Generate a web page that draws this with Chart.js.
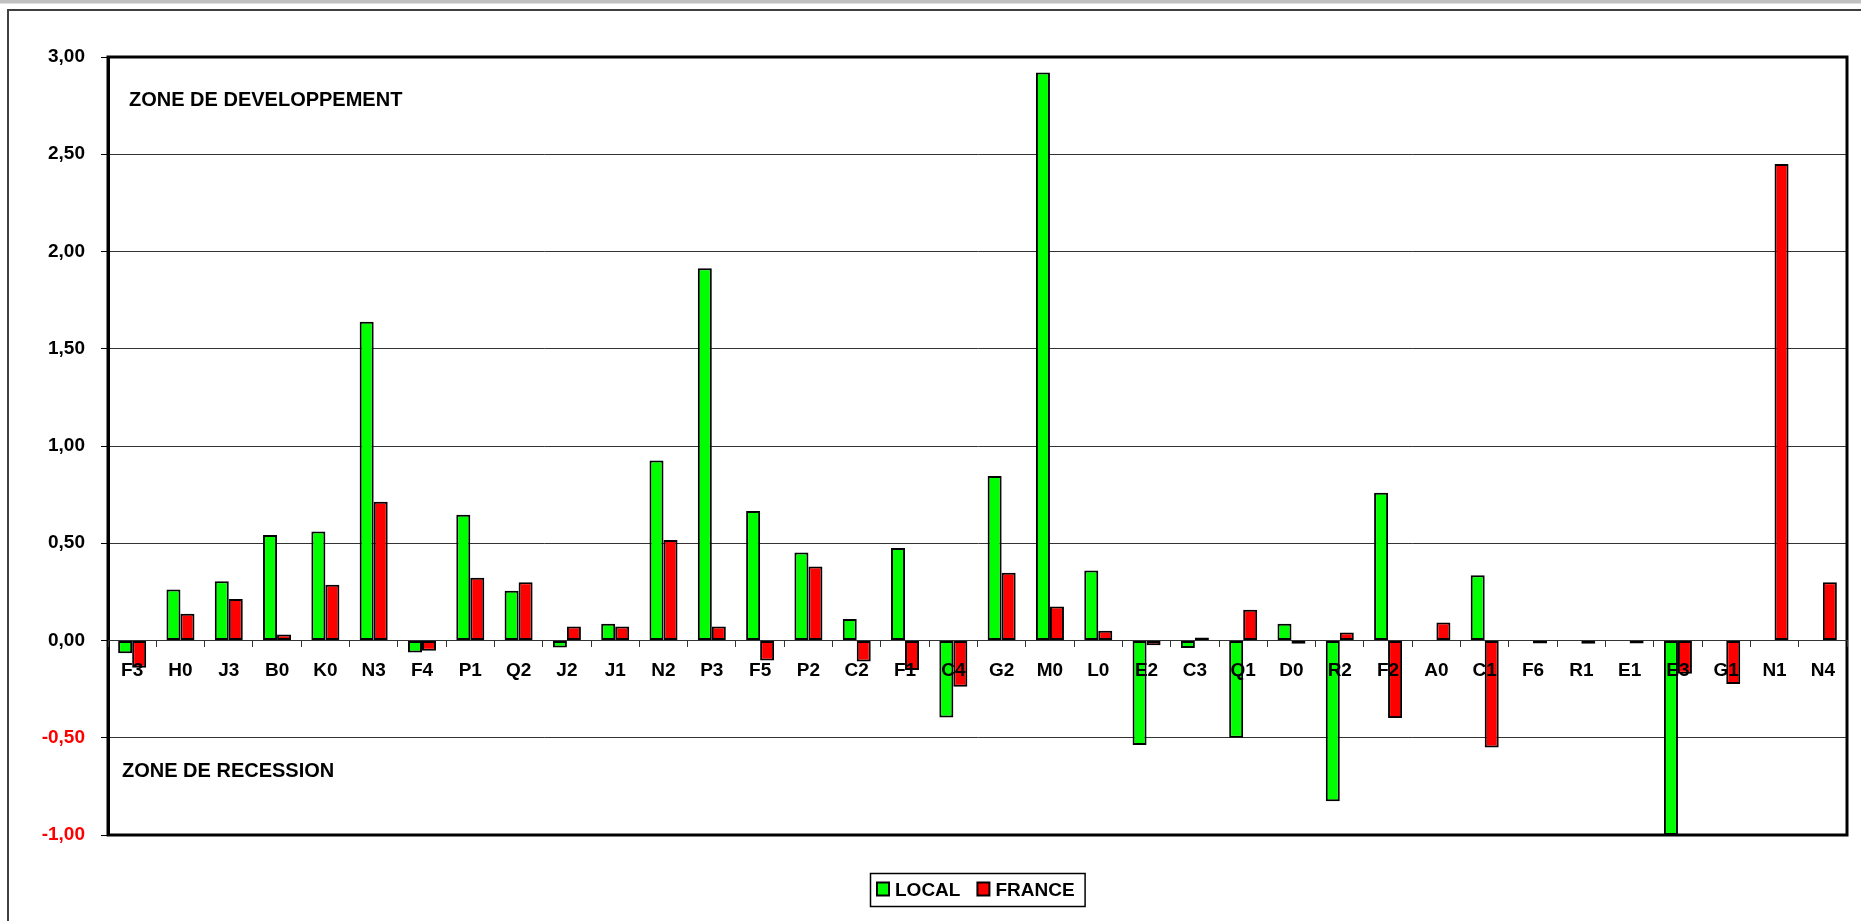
<!DOCTYPE html>
<html>
<head>
<meta charset="utf-8">
<script src="https://cdn.jsdelivr.net/npm/chart.js@4/dist/chart.umd.min.js"></script>
<style>
html,body{margin:0;padding:0;background:#fff;overflow:hidden;}
#wrap{width:1861px;height:921px;position:relative;}
</style>
</head>
<body>
<div id="wrap"><canvas id="c" width="1861" height="921"></canvas></div>
<script>
const categories = ['F3','H0','J3','B0','K0','N3','F4','P1','Q2','J2','J1','N2','P3','F5','P2','C2','F1','C4','G2','M0','L0','E2','C3','Q1','D0','R2','F2','A0','C1','F6','R1','E1','E3','G1','N1','N4'];

const localValues = [-0.065, 0.262, 0.305, 0.543, 0.56, 1.639, -0.062, 0.646, 0.256, -0.036, 0.086, 0.925, 1.914, 0.666, 0.452, 0.11, 0.475, -0.396, 0.846, 2.92, 0.36, -0.537, -0.039, -0.50, 0.086, -0.827, 0.759, null, 0.335, null, null, null, -1.00, null, null, null];

const franceValues = [-0.14, 0.137, 0.213, 0.031, 0.287, 0.714, -0.053, 0.323, 0.30, 0.072, 0.072, 0.517, 0.072, -0.103, 0.38, -0.108, -0.152, -0.238, 0.348, 0.175, 0.05, -0.024, 0.004, 0.158, -0.017, 0.041, -0.399, 0.093, -0.55, -0.01, -0.017, -0.01, -0.171, -0.224, 2.45, 0.30];

const seriesNames = ['LOCAL', 'FRANCE'];
const yMin = -1, yMax = 3, yStep = 0.5;
const zoneLabels = [
  {text: 'ZONE DE DEVELOPPEMENT', value: 2.75, dx: 21},
  {text: 'ZONE DE RECESSION', value: -0.70, dx: 14}
];

const FONT = '"Liberation Sans", Arial, Helvetica, sans-serif';

const framePlugin = {
  id: 'frame',
  beforeDraw(chart) {
    const ctx = chart.ctx;
    ctx.save();
    ctx.fillStyle = '#ffffff';
    ctx.fillRect(0, 0, chart.width, chart.height);
    ctx.fillStyle = '#c0c0c0';
    ctx.fillRect(0, 0, chart.width, 3.5);
    ctx.strokeStyle = '#404040';
    ctx.lineWidth = 2;
    ctx.strokeRect(8, 10, chart.width + 40, chart.height + 40);
    ctx.restore();
  },
  afterDatasetsDraw(chart) {
    const ctx = chart.ctx, ca = chart.chartArea;
    ctx.save();
    ctx.strokeStyle = '#000000';
    ctx.lineWidth = 3;
    ctx.strokeRect(ca.left, ca.top, ca.right - ca.left, ca.bottom - ca.top);
    ctx.restore();
  },
  afterDraw(chart) {
    const ctx = chart.ctx, ca = chart.chartArea, ys = chart.scales.y;
    ctx.save();
    // zone annotations
    ctx.font = 'bold 20px ' + FONT;
    ctx.fillStyle = '#000000';
    ctx.textBaseline = 'alphabetic';
    ctx.textAlign = 'left';
    zoneLabels.forEach(z => {
      ctx.fillText(z.text, ca.left + z.dx, ys.getPixelForValue(z.value));
    });
    // boxed legend
    ctx.font = 'bold 19px ' + FONT;
    const items = chart.data.datasets.map(d => ({label: d.label, color: d.backgroundColor, w: ctx.measureText(d.label).width}));
    const sq = 12, gapT = 6, gapI = 17, padL = 7, padR = 10;
    const total = items.reduce((s, it) => s + sq + gapT + it.w, 0) + gapI * (items.length - 1);
    const boxW = total + padL + padR;
    const bx = Math.round((ca.left + ca.right) / 2 - boxW / 2);
    const by = chart.height - 48, bh = 33;
    ctx.strokeStyle = '#000000';
    ctx.lineWidth = 1.5;
    ctx.strokeRect(bx + 0.5, by + 0.5, boxW, bh);
    let x = bx + padL;
    items.forEach(it => {
      ctx.fillStyle = it.color;
      ctx.fillRect(x, by + 9.5, sq, 13);
      ctx.strokeStyle = '#000000';
      ctx.lineWidth = 2;
      ctx.strokeRect(x, by + 9.5, sq, 13);
      ctx.fillStyle = '#000000';
      ctx.fillText(it.label, x + sq + gapT, by + 23);
      x += sq + gapT + it.w + gapI;
    });
    ctx.restore();
  }
};

new Chart(document.getElementById('c'), {
  type: 'bar',
  data: {
    labels: categories,
    datasets: [
      {label: seriesNames[0], data: localValues, backgroundColor: '#00ff00', borderColor: '#000000', borderWidth: 2, borderSkipped: false, minBarLength: 3},
      {label: seriesNames[1], data: franceValues, backgroundColor: '#ff0000', borderColor: '#000000', borderWidth: 2, borderSkipped: false, minBarLength: 3}
    ]
  },
  options: {
    responsive: false,
    animation: false,
    events: [],
    layout: {padding: {left: 0, right: 14, top: 57, bottom: 86}},
    datasets: {bar: {barPercentage: 1, categoryPercentage: 0.58}},
    plugins: {legend: {display: false}, tooltip: {enabled: false}, title: {display: false}},
    scales: {
      x: {
        position: {y: 0},
        grid: {display: true, drawOnChartArea: false, drawTicks: true, tickLength: 6, color: '#333333', offset: true, z: 1},
        border: {display: true, color: '#333333', width: 1, z: 1},
        ticks: {z: 2, autoSkip: false, maxRotation: 0, minRotation: 0, padding: 13, color: '#000000', font: {family: FONT, size: 19, weight: 'bold'}}
      },
      y: {
        min: yMin, max: yMax,
        afterFit(scale) { scale.width = 108; },
        grid: {color: '#333333', lineWidth: 1, tickLength: 7, tickColor: '#000000', drawTicks: true},
        border: {display: true, color: '#000000', width: 3},
        ticks: {
          stepSize: yStep,
          padding: 16,
          font: {family: FONT, size: 19, weight: 'bold'},
          color: ctx => (ctx.tick && ctx.tick.value < 0) ? '#ff0000' : '#000000',
          callback: v => Number(v).toFixed(2).replace('.', ',')
        }
      }
    }
  },
  plugins: [framePlugin]
});
</script>
</body>
</html>
